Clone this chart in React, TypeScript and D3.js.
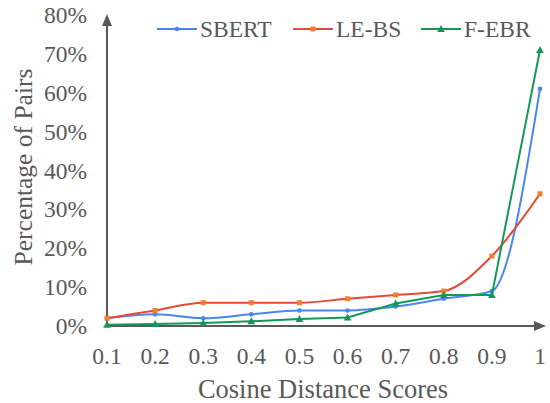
import React from 'react';
import * as d3 from 'd3';

const scores = ['0.1', '0.2', '0.3', '0.4', '0.5', '0.6', '0.7', '0.8', '0.9', '1'];
const sbert = [2, 3, 2, 3, 4, 4, 5, 7, 9, 61];
const lebs = [2, 4, 6, 6, 6, 7, 8, 9, 18, 34];
const febr = [0.3, 0.5, 0.8, 1.2, 1.8, 2.2, 5.8, 8, 8, 71];
const yTicks = [0, 10, 20, 30, 40, 50, 60, 70, 80];

const series = [
  { name: 'SBERT', values: sbert, line: '#4A86F0', marker: '#4A86F0', shape: 'circle', smooth: true, lx: 157 },
  { name: 'LE-BS', values: lebs, line: '#E5493A', marker: '#F0802E', shape: 'square', smooth: true, lx: 293 },
  { name: 'F-EBR', values: febr, line: '#12995A', marker: '#12995A', shape: 'triangle', smooth: false, lx: 421 },
];

// serif first; the sandbox falls back to a sans face, so sizes are set to match the text widths
const font = 'Liberation Serif, Times New Roman, serif';
const grey = '#595959';

const marker = (shape, x, y, color, key) => {
  if (shape === 'circle') return <circle key={key} cx={x} cy={y} r={2.3} fill={color} />;
  if (shape === 'square') return <rect key={key} x={x - 2.5} y={y - 2.5} width={5} height={5} fill={color} />;
  return <path key={key} d={`M${x},${y - 4}L${x + 3.8},${y + 3}L${x - 3.8},${y + 3}Z`} fill={color} />;
};

const App = () => {
  const x = d3.scalePoint().domain(scores).range([107, 540]);
  const y = d3.scaleLinear().domain([0, 80]).range([326, 15]);
  const txt = (size) => ({ fontFamily: font, fontSize: size, fill: grey });

  return (
    <svg width={550} height={403} style={{ position: 'absolute', left: 0, top: 0, background: '#fff' }}>
      {/* y tick labels */}
      {yTicks.map(t => (
        <text key={t} x={87} y={y(t)} textAnchor="end" dominantBaseline="central" style={txt(23.5)}>{t}%</text>
      ))}
      {/* x tick labels */}
      {scores.map(s => (
        <text key={s} x={x(s)} y={356} textAnchor="middle" dominantBaseline="central" style={txt(23.5)}>{s}</text>
      ))}
      <text x={323} y={389} textAnchor="middle" dominantBaseline="central" style={txt(26.5)}>Cosine Distance Scores</text>
      <text transform="translate(23,167) rotate(-90)" textAnchor="middle" dominantBaseline="central"
        style={txt(25.5)}>Percentage of Pairs</text>

      {/* axes with arrows */}
      <line x1={107} y1={326} x2={107} y2={24} stroke={grey} strokeWidth={2} />
      <path d="M107,14L112,26L102,26Z" fill={grey} />
      <line x1={107} y1={326} x2={536} y2={326} stroke={grey} strokeWidth={2} />
      <path d="M546,326L534,321L534,331Z" fill={grey} />

      {series.map(s => {
        const gen = d3.line<number>()
          .x((_, i) => x(scores[i]))
          .y(d => y(d))
          .curve(s.smooth ? d3.curveMonotoneX : d3.curveLinear);
        return (
          <g key={s.name}>
            <path d={gen(s.values)} fill="none" stroke={s.line} strokeWidth={2} />
            {s.values.map((v, i) => marker(s.shape, x(scores[i]), y(v), s.marker, i))}
          </g>
        );
      })}

      {/* legend */}
      {series.map(s => (
        <g key={s.name}>
          <line x1={s.lx} y1={29} x2={s.lx + 40} y2={29} stroke={s.line} strokeWidth={2} />
          {marker(s.shape, s.lx + 20, 29, s.marker, 'm')}
          <text x={s.lx + 43} y={29} dominantBaseline="central" style={txt(23.5)}>{s.name}</text>
        </g>
      ))}
    </svg>
  );
};

export default App;
